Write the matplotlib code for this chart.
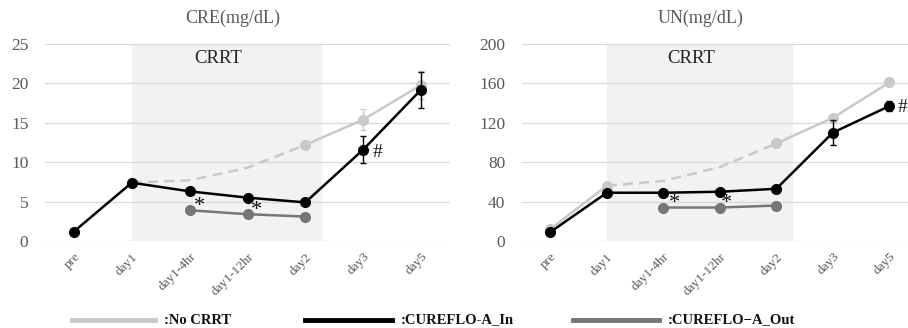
import matplotlib.pyplot as plt
from matplotlib.lines import Line2D
import numpy as np

plt.rcParams['font.family'] = 'Liberation Serif'

# ---- data ----
timepoints = ["pre", "day1", "day1-4hr", "day1-12hr", "day2", "day3", "day5"]

# CRE (mg/dL)
cre_no = [np.nan, 7.4, 7.7, 9.3, 12.2, 15.4, 19.8]
cre_no_err = [0, 0, 0, 0, 0, 1.3, 1.8]
cre_in = [1.2, 7.4, 6.3, 5.5, 4.9, 11.6, 19.2]
cre_in_err = [0, 0, 0, 0, 0, 1.7, 2.3]
cre_out = [np.nan, np.nan, 3.9, 3.4, 3.1, np.nan, np.nan]

# UN (mg/dL)
un_no = [12, 56, 61, 75, 99, 125, 161]
un_no_err = [0, 0, 0, 0, 0, 0, 0]
un_in = [9, 49, 49, 50, 53, 110, 137]
un_in_err = [0, 0, 0, 0, 0, 13, 5]
un_out = [np.nan, np.nan, 34, 34, 36, np.nan, np.nan]

C_NO = "#c9c9c9"
C_IN = "#000000"
C_OUT = "#767676"
TXT = "#595959"

fig = plt.figure(figsize=(9.08, 3.28), dpi=100)
W, H = 908, 328

def panel(rect, no, no_err, inn, inn_err, out, ymax, yticks, marks, xr):
    x0, x1, y0, y1 = rect
    ax = fig.add_axes([x0 / W, 1 - y1 / H, (x1 - x0) / W, (y1 - y0) / H])
    x = np.arange(len(timepoints))
    ax.axvspan(1, 4.27, color="#f2f2f2", zorder=0)
    for t in yticks:
        ax.axhline(t, color="#d9d9d9", lw=0.9, zorder=0.5)
    no = np.array(no, dtype=float)
    # No CRRT: solid pre-day1, dashed during CRRT, solid after
    ax.plot(x[:2], no[:2], color=C_NO, lw=1.8, zorder=1)
    ax.plot(x[1:5], no[1:5], color=C_NO, lw=1.8, ls=(0, (4, 2.5)), zorder=1)
    ax.plot(x[4:], no[4:], color=C_NO, lw=1.8, zorder=1)
    ax.errorbar(x[[0, 1, 4, 5, 6]], no[[0, 1, 4, 5, 6]],
                yerr=np.array(no_err)[[0, 1, 4, 5, 6]], fmt="o", color=C_NO,
                ms=7, elinewidth=1, capsize=2, zorder=1.5)
    ax.errorbar(x, inn, yerr=inn_err, fmt="-o", color=C_IN, lw=1.8,
                ms=7, elinewidth=1, capsize=2, zorder=3)
    ax.plot(x, out, "-o", color=C_OUT, lw=1.8, ms=7, zorder=2)
    for (mx, my, s) in marks:
        ax.text(mx, my, s, fontsize=16 if s == "*" else 14, color="#111111",
                ha="center", va="center", zorder=4)
    ax.text(2.5, ymax * 0.925, "CRRT", fontsize=13.5, color="#222222",
            ha="center", va="center")
    ax.set_xlim(-0.5, xr)
    ax.set_ylim(0, ymax)
    ax.set_yticks(yticks)
    ax.set_xticks(x)
    ax.set_xticklabels(timepoints, rotation=45, ha="right",
                       rotation_mode="anchor", fontsize=9.5, color=TXT)
    ax.tick_params(axis="y", length=0, pad=12, labelsize=12.5, labelcolor=TXT)
    ax.tick_params(axis="x", length=0, pad=7)
    for s in ax.spines.values():
        s.set_visible(False)
    ax.patch.set_alpha(0)
    return ax

panel((45, 450, 44, 241), cre_no, cre_no_err, cre_in, cre_in_err, cre_out,
      25, [0, 5, 10, 15, 20, 25],
      [(2.17, 4.4, "*"), (3.15, 3.9, "*"), (5.24, 11.2, "#")], 6.5)
panel((522, 908, 44, 241), un_no, un_no_err, un_in, un_in_err, un_out,
      200, [0, 40, 80, 120, 160, 200],
      [(2.2, 38, "*"), (3.12, 38, "*"), (6.24, 136, "#")], 6.33)

fig.text(233 / W, 1 - 18 / H, "CRE(mg/dL)", fontsize=13, color=TXT,
         ha="center", va="center")
fig.text(701 / W, 1 - 18 / H, "UN(mg/dL)", fontsize=13, color=TXT,
         ha="center", va="center")

# legend along the bottom
legend_items = [(":No CRRT", C_NO, 72, 155), (":CUREFLO-A_In", C_IN, 305, 392),
                (":CUREFLO\u2212A_Out", C_OUT, 573, 659)]
ly = 1 - 320 / H
for label, col, pa, pb in legend_items:
    fig.add_artist(Line2D([pa / W, pb / W], [ly, ly], color=col,
                          lw=3.5, transform=fig.transFigure))
    fig.text((pb + 9) / W, ly, label, fontsize=10.5, fontweight="bold",
             color="#111111", ha="left", va="center")

fig.savefig("out.png", dpi=100)
